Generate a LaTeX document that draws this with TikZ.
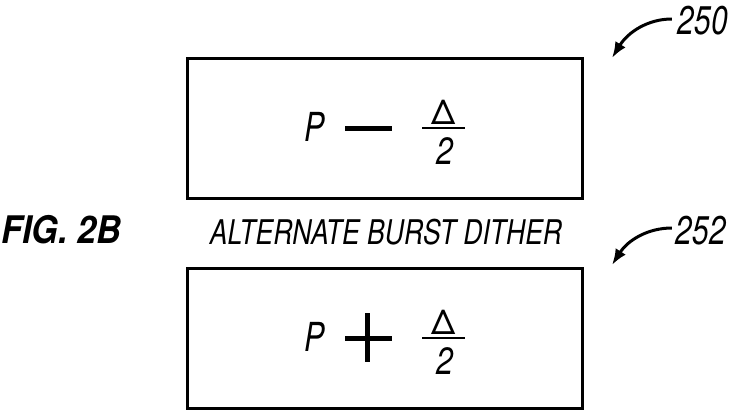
\documentclass[tikz,border=0pt]{standalone}
\usepackage{fontspec}
\setmainfont{TeX Gyre Heros}
\newfontfamily\figfont[FakeStretch=0.9]{TeX Gyre Heros}
\newfontfamily\pfont[FakeStretch=0.76]{TeX Gyre Heros}
\newfontfamily\numfont[FakeStretch=0.8]{TeX Gyre Heros}
\newfontfamily\capfont[FakeStretch=0.78]{TeX Gyre Heros}
\newfontfamily\lblfont[FakeStretch=0.75]{TeX Gyre Heros}
\usetikzlibrary{arrows.meta}
\tikzset{
  box/.style={draw, line width=3pt, minimum width=395pt, minimum height=140pt, inner sep=0pt},
  lbl/.style={inner sep=0pt, font=\lblfont\itshape\fontsize{40}{44}\selectfont},
  sym/.style={line width=5pt},
  bar/.style={line width=2.4pt},
  leader/.style={line width=3pt, -{Latex[length=16pt,width=12pt]}},
  txt/.style={inner sep=0pt},
  pvar/.style={inner sep=0pt, font=\pfont\itshape\fontsize{40}{44}\selectfont},
  delta/.style={inner sep=0pt, font=\fontsize{34}{38}\selectfont},
  two/.style={inner sep=0pt, font=\numfont\itshape\fontsize{38}{42}\selectfont}
}
\begin{document}
\begin{tikzpicture}[x=1pt,y=-1pt]
\useasboundingbox (0,0) rectangle (735,415);
% boxes
\node[box] (b1) at (385,128.5) {};
\node[box] (b2) at (385,338.5) {};
% captions
\node[txt, font=\figfont\bfseries\itshape\fontsize{38}{42}\selectfont] (fig) at (61,230) {FIG. 2B};
\node[txt, font=\capfont\itshape\fontsize{34}{38}\selectfont] (cap) at (386,232.5) {ALTERNATE BURST DITHER};
% reference labels
\node[lbl] (l250) at (703,21) {250};
\node[lbl] (l252) at (701,231) {252};
\coordinate (t250) at (612,58);
\coordinate (t252) at (612,265);
\draw[leader] (l250.west) ++(-6,-2) coordinate (s250) .. controls (648,19) and (628,32) .. (t250);
\draw[leader] (l252.west) ++(-4,-3) coordinate (s252) .. controls (648,228) and (628,240) .. (t252);
% box 1 content
\node[pvar] (p1) at (315,126.5) {P};
\coordinate (m1a) at (345,128);
\coordinate (m1b) at (392,128);
\draw[sym] (m1a) -- (m1b);
\node[delta] (d1) at (444,112.5) {Δ};
\coordinate (f1a) at (422,128);
\coordinate (f1b) at (465,128);
\draw[bar] (f1a) -- (f1b);
\node[two] (n1) at (445,151) {2};
% box 2 content
\node[pvar] (p2) at (315,336.5) {P};
\coordinate (h2a) at (345,338);
\coordinate (h2b) at (392,338);
\coordinate (v2a) at (367,313);
\coordinate (v2b) at (367,362);
\draw[sym] (h2a) -- (h2b);
\draw[sym] (v2a) -- (v2b);
\node[delta] (d2) at (444,322.5) {Δ};
\coordinate (f2a) at (422,338);
\coordinate (f2b) at (465,338);
\draw[bar] (f2a) -- (f2b);
\node[two] (n2) at (445,361) {2};
\end{tikzpicture}
\end{document}
